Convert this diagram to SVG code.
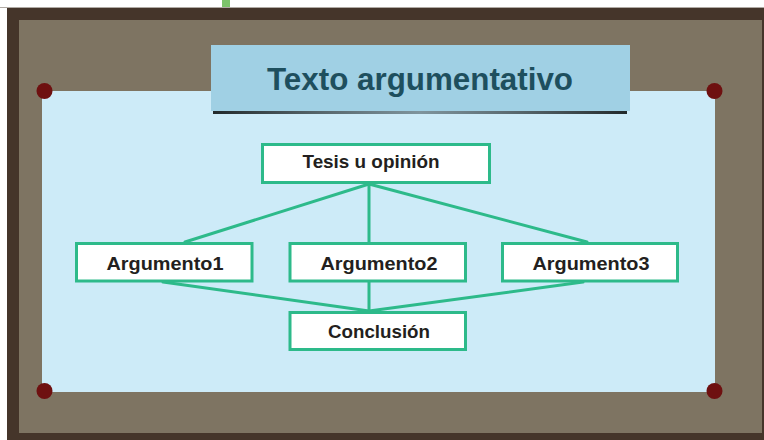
<svg xmlns="http://www.w3.org/2000/svg" width="764" height="440" viewBox="0 0 764 440">
  <defs>
    <linearGradient id="shadow" x1="0" y1="0" x2="1" y2="0">
      <stop offset="0" stop-color="#22292b"/>
      <stop offset="0.5" stop-color="#4a5a60" stop-opacity="0.6"/>
      <stop offset="1" stop-color="#22292b"/>
    </linearGradient>
  </defs>
  <style>
    .box { fill: #ffffff; stroke: #2dba8a; stroke-width: 3; }
    .lbl { font-family: "Liberation Sans", Arial, sans-serif; font-weight: bold; font-size: 18.5px; fill: #231f20; text-anchor: middle; }
    .conn { stroke: #2dba8a; stroke-width: 3; fill: none; stroke-linecap: round; }
    .pin { fill: #6e1010; }
  </style>
  <rect x="0" y="0" width="764" height="440" fill="#ffffff"/>
  <rect x="222" y="0" width="8" height="8" fill="#7cc36a"/>
  <rect x="0" y="7" width="764" height="1" fill="#b0aaa4"/>
  <rect x="7" y="8" width="757" height="432" fill="#45352a"/>
  <rect x="19" y="20" width="743" height="413" fill="#7e7462"/>
  <rect x="42" y="91" width="673" height="301" fill="#cdebf8"/>
  <circle class="pin" cx="44.5" cy="91" r="8"/>
  <circle class="pin" cx="714.5" cy="91" r="8"/>
  <circle class="pin" cx="44.5" cy="391" r="8"/>
  <circle class="pin" cx="714.5" cy="391" r="8"/>
  <g id="title">
    <rect x="213" y="110" width="414" height="4" fill="url(#shadow)"/>
    <rect x="211" y="45" width="419" height="66" fill="#a0d0e4"/>
    <text x="420" y="89.5" font-family="'Liberation Sans', Arial, sans-serif" font-weight="bold" font-size="31" fill="#1e4f5e" text-anchor="middle" textLength="306" lengthAdjust="spacingAndGlyphs">Texto argumentativo</text>
  </g>
  <g id="connectors">
    <line class="conn" x1="369" y1="184" x2="185" y2="242"/>
    <line class="conn" x1="369" y1="184" x2="369" y2="242"/>
    <line class="conn" x1="369" y1="184" x2="587" y2="242"/>
    <line class="conn" x1="163" y1="282" x2="369" y2="311"/>
    <line class="conn" x1="369" y1="282" x2="369" y2="311"/>
    <line class="conn" x1="583" y1="282" x2="369" y2="311"/>
  </g>
  <g id="tesis">
    <rect class="box" x="262.5" y="144.5" width="227" height="38"/>
    <text class="lbl" x="371" y="167.5" textLength="137" lengthAdjust="spacingAndGlyphs">Tesis u opinión</text>
  </g>
  <g id="argumento1">
    <rect class="box" x="76.5" y="243.5" width="175.5" height="37.5"/>
    <text class="lbl" x="165" y="270" textLength="117" lengthAdjust="spacingAndGlyphs">Argumento1</text>
  </g>
  <g id="argumento2">
    <rect class="box" x="290" y="243.5" width="175.5" height="37.5"/>
    <text class="lbl" x="379" y="270" textLength="117" lengthAdjust="spacingAndGlyphs">Argumento2</text>
  </g>
  <g id="argumento3">
    <rect class="box" x="502.5" y="243.5" width="175" height="37.5"/>
    <text class="lbl" x="591" y="270" textLength="117" lengthAdjust="spacingAndGlyphs">Argumento3</text>
  </g>
  <g id="conclusion">
    <rect class="box" x="290" y="312.5" width="175.5" height="37"/>
    <text class="lbl" x="379" y="337.5" textLength="102" lengthAdjust="spacingAndGlyphs">Conclusión</text>
  </g>
</svg>
